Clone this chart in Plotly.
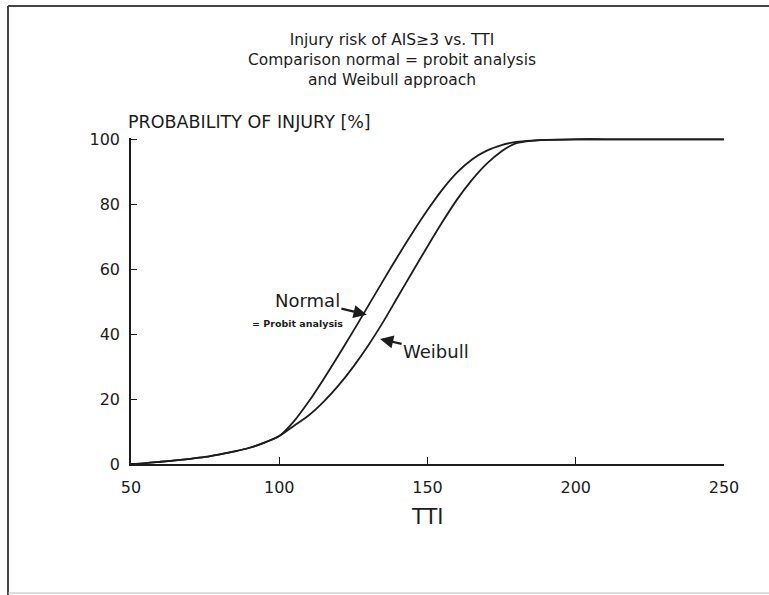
import plotly.graph_objects as go

# TTI values at which the two risk curves are sampled
tti = [50, 55, 60, 65, 70, 75, 80, 85, 90, 95, 100, 105, 110, 115, 120, 125,
       130, 135, 140, 145, 150, 155, 160, 165, 170, 175, 178, 180, 185, 190,
       200, 210, 220, 230, 240, 250]

# probability of injury (%) - normal distribution = probit analysis
p_normal = [0.0, 0.3, 0.7, 1.1, 1.6, 2.2, 3.0, 3.9, 5.0, 6.6, 8.6, 13.2, 19.3,
            26.2, 33.5, 41.0, 48.7, 56.4, 64.0, 71.3, 78.2, 84.5, 89.8, 93.8,
            96.5, 98.2, 98.9, 99.2, 99.6, 99.85, 100.0, 100.0, 100.0, 100.0,
            100.0, 100.0]

# probability of injury (%) - Weibull approach
p_weibull = [0.0, 0.3, 0.7, 1.1, 1.6, 2.2, 3.0, 3.9, 5.0, 6.6, 8.6, 11.8, 15.0,
             19.2, 24.2, 30.0, 36.5, 43.7, 51.5, 59.3, 67.0, 74.5, 81.5, 87.5,
             92.5, 96.3, 98.0, 98.8, 99.5, 99.8, 100.0, 100.0, 100.0, 100.0,
             100.0, 100.0]

x_ticks = [50, 100, 150, 200, 250]
y_ticks = [0, 20, 40, 60, 80, 100]

W, H = 769, 595
ML, MR, MT, MB = 131, 45, 138, 131
PW, PH = W - ML - MR, H - MT - MB


def px_x(px):
    return (px - ML) / PW


def px_y(py):
    return (H - MB - py) / PH


INK = "#1c1c1c"
FONT = "DejaVu Sans"

fig = go.Figure()
for ys, name in [(p_normal, "Normal"), (p_weibull, "Weibull")]:
    fig.add_trace(go.Scatter(
        x=tti, y=ys, mode="lines", name=name,
        line=dict(color=INK, width=1.8, shape="spline", smoothing=0.8),
        showlegend=False,
    ))

fig.update_layout(
    width=W, height=H,
    margin=dict(l=ML, r=MR, t=MT, b=MB),
    paper_bgcolor="white", plot_bgcolor="white",
    font=dict(family=FONT, color=INK),
    title=dict(
        text="Injury risk of AIS≥3 vs. TTI<br>Comparison normal = probit analysis"
             "<br>and Weibull approach",
        x=392 / W, xanchor="center", y=1 - 45 / H, yanchor="middle",
        font=dict(size=15.5, family=FONT, color=INK),
    ),
    xaxis=dict(
        range=[50, 250], tickvals=x_ticks, ticktext=[str(v) for v in x_ticks],
        showgrid=False, zeroline=False, showline=True, linecolor=INK,
        linewidth=1.6, ticks="inside", ticklen=7, tickwidth=1.4, tickcolor=INK,
        tickfont=dict(size=16, family=FONT, color=INK), ticklabelstandoff=8,
    ),
    yaxis=dict(
        range=[0, 100.4], tickvals=y_ticks, ticktext=[str(v) for v in y_ticks],
        showgrid=False, zeroline=False, showline=True, linecolor=INK,
        linewidth=1.6, ticks="inside", ticklen=6, tickwidth=1.4, tickcolor=INK,
        tickfont=dict(size=16, family=FONT, color=INK), ticklabelstandoff=6,
    ),
)

# axis titles
fig.add_annotation(text="PROBABILITY OF INJURY [%]", xref="paper", yref="paper",
                   x=px_x(126), y=px_y(122), xanchor="left", yanchor="middle",
                   showarrow=False, font=dict(size=17.5, family=FONT, color=INK))
fig.add_annotation(text="TTI", xref="paper", yref="paper",
                   x=px_x(427), y=px_y(517), xanchor="center", yanchor="middle",
                   showarrow=False, font=dict(size=21, family=FONT, color=INK))

# curve labels with arrows
fig.add_annotation(text="Normal", x=129.5, y=46.0, ax=109.5, ay=50.3,
                   axref="x", ayref="y", showarrow=True, arrowhead=2,
                   arrowsize=1.2, arrowwidth=2.2, arrowcolor=INK, standoff=0,
                   font=dict(size=18, family=FONT, color=INK))
fig.add_annotation(text="<b>= Probit analysis</b>", x=106.3, y=43.4,
                   xref="x", yref="y", showarrow=False,
                   font=dict(size=9.5, family=FONT, color=INK))
fig.add_annotation(text="Weibull", x=134.0, y=38.5, ax=152.9, ay=34.6,
                   axref="x", ayref="y", showarrow=True, arrowhead=2,
                   arrowsize=1.2, arrowwidth=2.2, arrowcolor=INK, standoff=0,
                   font=dict(size=18, family=FONT, color=INK))

# page frame: left and top rules, faint bottom rule
fig.add_shape(type="line", xref="paper", yref="paper",
              x0=px_x(8), x1=px_x(8), y0=px_y(6), y1=px_y(H),
              line=dict(color="#444444", width=2))
fig.add_shape(type="line", xref="paper", yref="paper",
              x0=px_x(8), x1=px_x(W), y0=px_y(6), y1=px_y(6),
              line=dict(color="#444444", width=2))
fig.add_shape(type="line", xref="paper", yref="paper",
              x0=px_x(8), x1=px_x(W), y0=px_y(593), y1=px_y(593),
              line=dict(color="#bbbbbb", width=1))

fig.write_html("out.html")
